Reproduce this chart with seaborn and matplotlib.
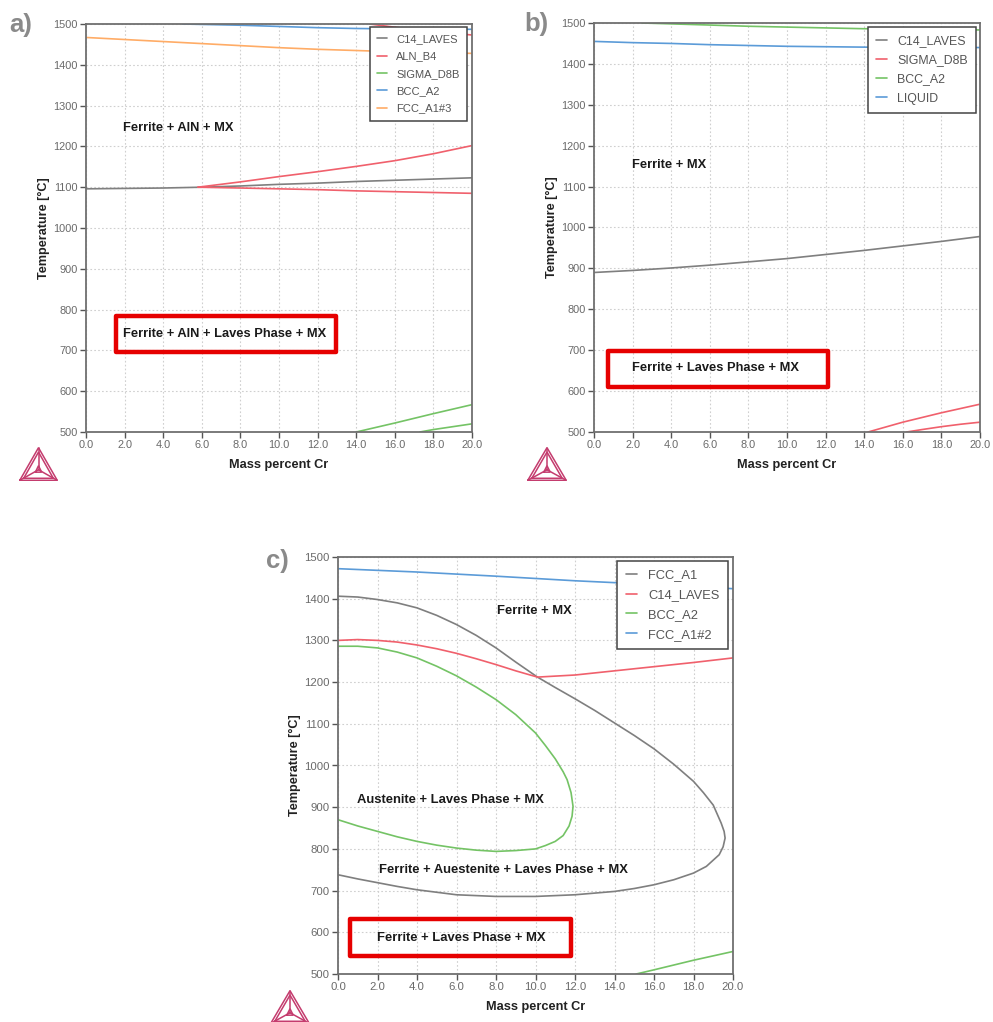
import numpy as np
import pandas as pd
import matplotlib
matplotlib.use("Agg")
import matplotlib.pyplot as plt
import seaborn as sns
from matplotlib.lines import Line2D
from matplotlib.patches import Rectangle

# ---------------- data ----------------
x_ticks = [0, 2, 4, 6, 8, 10, 12, 14, 16, 18, 20]
y_ticks = [500, 600, 700, 800, 900, 1000, 1100, 1200, 1300, 1400, 1500]

# panel a
a_c14_x = [0, 2, 4, 6, 8, 10, 12, 14, 16, 18, 20]
a_c14_T = [1096, 1097, 1098, 1100, 1103, 1107, 1110, 1114, 1117, 1120, 1123]
a_aln_up_x = [5.8, 8, 10, 12, 14, 16, 18, 20]
a_aln_up_T = [1100, 1113, 1126, 1138, 1151, 1165, 1182, 1202]
a_aln_lo_x = [5.8, 8, 10, 12, 14, 16, 18, 20]
a_aln_lo_T = [1100, 1098, 1096, 1094, 1091, 1089, 1087, 1085]
a_aln_top_x = [14.7, 16, 18, 20]
a_aln_top_T = [1500, 1492, 1482, 1473]
a_bcc_x = [5, 8, 10, 12, 14, 16, 18, 20]
a_bcc_T = [1500, 1497, 1494, 1491, 1489, 1488, 1487, 1487]
a_fcc3_x = [0, 2, 4, 6, 8, 10, 12, 14, 16, 18, 20]
a_fcc3_T = [1467, 1462, 1457, 1452, 1447, 1442, 1438, 1435, 1432, 1430, 1428]
a_sig_up_x = [14, 16, 18, 20]
a_sig_up_T = [500, 522, 545, 567]
a_sig_lo_x = [17.3, 18, 19, 20]
a_sig_lo_T = [500, 506, 513, 520]

# panel b
b_c14_x = [0, 2, 4, 6, 8, 10, 12, 14, 16, 18, 20]
b_c14_T = [890, 895, 901, 908, 916, 924, 934, 944, 955, 966, 978]
b_sig_up_x = [14.2, 16, 18, 20]
b_sig_up_T = [500, 524, 547, 568]
b_sig_lo_x = [16.2, 17, 18, 19, 20]
b_sig_lo_T = [500, 506, 513, 519, 524]
b_bcc_x = [2.5, 6, 8, 10, 12, 14, 16, 18, 20]
b_bcc_T = [1500, 1495, 1492, 1490, 1488, 1486, 1485, 1484, 1483]
b_liq_x = [0, 2, 4, 6, 8, 10, 12, 14, 16, 18, 20]
b_liq_T = [1455, 1452, 1450, 1447, 1445, 1443, 1442, 1441, 1440, 1440, 1440]

# panel c
c_fcc2_x = [0, 4, 8, 12, 16, 20]
c_fcc2_T = [1472, 1464, 1454, 1443, 1434, 1424]
c_fcc_x = [0, 1, 2, 3, 4, 5, 6, 7, 8, 9, 10.1, 11, 12, 13, 14, 15, 16, 17, 18, 18.5,
           19, 19.4, 19.55, 19.6, 19.5, 19.3, 18.65, 18, 17, 16, 15, 14, 12, 10, 8, 6,
           4, 3, 2, 1, 0]
c_fcc_T = [1406, 1404, 1398, 1390, 1378, 1360, 1338, 1312, 1282, 1248, 1212, 1187,
           1160, 1132, 1102, 1072, 1040, 1003, 962, 935, 905, 862, 842, 826, 805, 786,
           758, 742, 726, 714, 705, 698, 690, 686, 686, 690, 702, 710, 719, 728, 738]
c_c14_x = [0, 1, 2, 3, 4, 5, 6, 7, 8, 9, 10.1, 12, 14, 16, 18, 20]
c_c14_T = [1300, 1302, 1300, 1296, 1289, 1280, 1269, 1256, 1242, 1227, 1212, 1217,
           1227, 1237, 1247, 1258]
c_bcc_x = [0, 1, 2, 3, 4, 5, 6, 7, 8, 9, 10, 10.5, 11, 11.4, 11.6, 11.8, 11.9, 11.85,
           11.7, 11.4, 11, 10.5, 10, 9, 8, 7, 6, 5, 4, 3, 2, 1, 0]
c_bcc_T = [1286, 1286, 1282, 1272, 1258, 1238, 1215, 1188, 1158, 1122, 1078, 1048,
           1016, 985, 966, 935, 902, 878, 855, 832, 818, 808, 800, 796, 794, 797, 802,
           809, 818, 829, 842, 855, 870]
c_bcc_lo_x = [15.1, 16, 18, 20]
c_bcc_lo_T = [500, 510, 533, 554]

legend_a = ["C14_LAVES", "ALN_B4", "SIGMA_D8B", "BCC_A2", "FCC_A1#3"]
legend_b = ["C14_LAVES", "SIGMA_D8B", "BCC_A2", "LIQUID"]
legend_c = ["FCC_A1", "C14_LAVES", "BCC_A2", "FCC_A1#2"]

# ---------------- style ----------------
sns.set_theme(style="white")
plt.rcParams['font.family'] = ['Liberation Sans', 'DejaVu Sans']

GRAY = '#7f7f7f'
RED = '#f0606c'
GREEN = '#74c365'
BLUE = '#5b9bd8'
ORANGE = '#ffac66'
colors = [GRAY, RED, GREEN, BLUE, ORANGE]
LW = 1.2

W, H = 993, 1022
fig = plt.figure(figsize=(W / 100, H / 100), dpi=100)


def px_axes(left, top, right, bottom):
    return fig.add_axes([left / W, 1 - bottom / H, (right - left) / W, (bottom - top) / H])


def style_axes(ax, tick_fs=7.9):
    ax.set_xlim(0, 20)
    ax.set_ylim(500, 1500)
    ax.set_xticks(x_ticks)
    ax.set_xticklabels([f"{v:.1f}" for v in x_ticks])
    ax.set_yticks(y_ticks)
    ax.set_yticklabels([str(v) for v in y_ticks])
    ax.grid(True, color='#cfcfcf', linestyle=(0, (1.5, 2)), linewidth=0.8)
    for s in ax.spines.values():
        s.set_color('#707070')
        s.set_linewidth(1.3)
    ax.tick_params(axis='both', which='major', direction='out', length=4, width=1,
                   color='#555555', labelcolor='#6a6a6a', labelsize=tick_fs, pad=2,
                   bottom=True, left=True)
    ax.set_xlabel("Mass percent Cr", fontsize=9.2, fontweight='bold', color='#222222', labelpad=6)
    ax.set_ylabel("Temperature [°C]", fontsize=9.1, fontweight='bold', color='#222222', labelpad=2)


def line(ax, xs, ts, color):
    df = pd.DataFrame({"x": xs, "T": ts})
    sns.lineplot(data=df, x="x", y="T", sort=False, estimator=None, color=color,
                 linewidth=LW, ax=ax, legend=False)


def add_legend(ax, labels, anchor, fs, ls):
    handles = [Line2D([0], [0], color=colors[i], lw=LW) for i in range(len(labels))]
    leg = ax.legend(handles, labels, loc='upper right', bbox_to_anchor=anchor,
                    frameon=True, fancybox=False, framealpha=1, edgecolor='#444444',
                    fontsize=fs, handlelength=0.9, handletextpad=0.85, labelspacing=ls,
                    borderpad=0.65, borderaxespad=0)
    leg.get_frame().set_linewidth(1.1)
    for t in leg.get_texts():
        t.set_color('#555555')
    leg.set_zorder(10)


def red_box(ax, x0, y0, w, h):
    ax.add_patch(Rectangle((x0, y0), w, h, transform=ax.transAxes, fill=False,
                           edgecolor='#e60000', linewidth=3.2, joinstyle='round', zorder=6))


def label(ax, x, t, s, fs):
    ax.text(x, t, s, ha='left', va='center', fontsize=fs, fontweight='bold',
            color='#1a1a1a', zorder=7)


def logo(left, top, w, h):
    lax = px_axes(left, top, left + w, top + h)
    lax.set_xlim(0, 1)
    lax.set_ylim(0, 1)
    lax.axis('off')
    c = '#c43c6e'
    kw = dict(color=c, lw=1.1, solid_joinstyle='miter')
    lax.plot([0.02, 0.98, 0.5, 0.02], [0.02, 0.02, 0.98, 0.02], **kw)
    lax.plot([0.12, 0.88, 0.5, 0.12], [0.08, 0.08, 0.85, 0.08], **kw)
    cx, cy = 0.5, 0.33
    for vx, vy in [(0.02, 0.02), (0.98, 0.02), (0.5, 0.98)]:
        lax.plot([cx, vx], [cy, vy], **kw)
    lax.plot([0.42, 0.58, 0.5, 0.42], [0.26, 0.26, 0.45, 0.26], **kw)


# ---------------- panel a ----------------
ax_a = px_axes(86, 24, 472, 432)
line(ax_a, a_fcc3_x, a_fcc3_T, ORANGE)
line(ax_a, a_bcc_x, a_bcc_T, BLUE)
line(ax_a, a_aln_top_x, a_aln_top_T, RED)
line(ax_a, a_c14_x, a_c14_T, GRAY)
line(ax_a, a_aln_up_x, a_aln_up_T, RED)
line(ax_a, a_aln_lo_x, a_aln_lo_T, RED)
line(ax_a, a_sig_up_x, a_sig_up_T, GREEN)
line(ax_a, a_sig_lo_x, a_sig_lo_T, GREEN)
style_axes(ax_a)
add_legend(ax_a, legend_a, (1 - 5 / 386, 1 - 3 / 408), 8.0, 0.66)
label(ax_a, 1.92, 1245, "Ferrite + AlN + MX", 9.3)
label(ax_a, 1.92, 740, "Ferrite + AlN + Laves Phase + MX", 9.3)
red_box(ax_a, 0.078, 0.196, 0.570, 0.088)

# ---------------- panel b ----------------
ax_b = px_axes(594, 23, 980, 432)
line(ax_b, b_liq_x, b_liq_T, BLUE)
line(ax_b, b_bcc_x, b_bcc_T, GREEN)
line(ax_b, b_c14_x, b_c14_T, GRAY)
line(ax_b, b_sig_up_x, b_sig_up_T, RED)
line(ax_b, b_sig_lo_x, b_sig_lo_T, RED)
style_axes(ax_b)
add_legend(ax_b, legend_b, (1 - 4 / 386, 1 - 4 / 409), 8.9, 0.58)
label(ax_b, 1.97, 1153, "Ferrite + MX", 9.25)
label(ax_b, 1.97, 656, "Ferrite + Laves Phase + MX", 9.25)
red_box(ax_b, 0.036, 0.110, 0.570, 0.088)

# ---------------- panel c ----------------
ax_c = px_axes(338, 557, 733, 974)
line(ax_c, c_fcc2_x, c_fcc2_T, BLUE)
line(ax_c, c_fcc_x, c_fcc_T, GRAY)
line(ax_c, c_c14_x, c_c14_T, RED)
line(ax_c, c_bcc_x, c_bcc_T, GREEN)
line(ax_c, c_bcc_lo_x, c_bcc_lo_T, GREEN)
style_axes(ax_c, tick_fs=8.2)
add_legend(ax_c, legend_c, (1 - 5 / 395, 1 - 4 / 417), 9.3, 0.6)
label(ax_c, 8.06, 1370, "Ferrite + MX", 9.4)
label(ax_c, 0.96, 917, "Austenite + Laves Phase + MX", 9.4)
label(ax_c, 2.08, 749, "Ferrite + Auestenite + Laves Phase + MX", 9.4)
label(ax_c, 1.98, 586, "Ferrite + Laves Phase + MX", 9.4)
red_box(ax_c, 0.030, 0.043, 0.560, 0.089)

# panel letters
for s, x, y in [("a)", 9, 25), ("b)", 524, 24), ("c)", 266, 561)]:
    fig.text(x / W, 1 - y / H, s, ha='left', va='center', fontsize=18.5,
             fontweight='bold', color='#8a8a8a')

# logos
logo(19, 447, 39, 34)
logo(527, 447, 40, 34)
logo(270, 990, 40, 34)

fig.savefig("out.png", dpi=100)
